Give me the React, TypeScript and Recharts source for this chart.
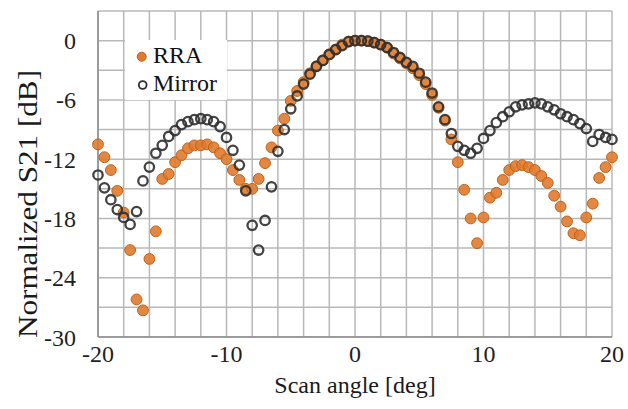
import React from 'react';
import {
  ScatterChart,
  Scatter,
  XAxis,
  YAxis,
  CartesianGrid,
  Legend,
  Label,
} from 'recharts';

// Scan angles [deg], same grid for both measurements
const ANGLES = [
  -20, -19.5, -19, -18.5, -18, -17.5, -17, -16.5, -16, -15.5,
  -15, -14.5, -14, -13.5, -13, -12.5, -12, -11.5, -11, -10.5,
  -10, -9.5, -9, -8.5, -8, -7.5, -7, -6.5, -6, -5.5,
  -5, -4.5, -4, -3.5, -3, -2.5, -2, -1.5, -1, -0.5,
  0, 0.5, 1, 1.5, 2, 2.5, 3, 3.5, 4, 4.5,
  5, 5.5, 6, 6.5, 7, 7.5, 8, 8.5, 9, 9.5,
  10, 10.5, 11, 11.5, 12, 12.5, 13, 13.5, 14, 14.5,
  15, 15.5, 16, 16.5, 17, 17.5, 18, 18.5, 19, 19.5,
  20,
];

// Normalized S21 [dB]
const RRA = [
  -10.5, -11.8, -13.1, -15.2, -17.4, -21.2, -26.2, -27.3, -22.1, -19.3,
  -14.0, -13.5, -12.3, -11.6, -10.9, -10.6, -10.6, -10.5, -10.8, -11.4,
  -12.0, -13.1, -14.1, -15.0, -15.0, -14.0, -12.4, -10.8, -9.1, -7.9,
  -6.1, -5.1, -4.2, -3.3, -2.6, -2.0, -1.4, -0.9, -0.4, -0.1,
  0, 0, -0.05, -0.2, -0.4, -0.7, -1.3, -1.8, -2.3, -2.8,
  -3.5, -4.4, -5.5, -6.8, -8.1, -10.0, -12.3, -15.1, -18.0, -20.5,
  -17.9, -15.9, -15.4, -14.1, -13.1, -12.7, -12.6, -12.8, -13.1, -13.7,
  -14.4, -15.7, -16.8, -18.3, -19.5, -19.7, -17.9, -16.5, -13.9, -12.8,
  -11.8,
];

const MIRROR = [
  -13.6, -14.9, -16.1, -17.1, -17.9, -18.6, -17.3, -14.2, -12.8, -11.4,
  -10.6, -9.7, -9.1, -8.5, -8.2, -8.0, -7.9, -8.0, -8.2, -8.7,
  -9.8, -11.1, -12.6, -15.2, -18.7, -21.2, -18.2, -14.8, -11.2, -9.0,
  -6.9, -5.6, -4.4, -3.4, -2.6, -2.0, -1.4, -0.9, -0.5, -0.1,
  0, 0, -0.05, -0.2, -0.4, -0.7, -1.2, -1.7, -2.2, -2.6,
  -3.3, -4.2, -5.3, -6.7, -8.0, -9.4, -10.7, -11.1, -11.4, -10.9,
  -9.9, -9.1, -8.3, -7.7, -7.2, -6.7, -6.5, -6.4, -6.3, -6.4,
  -6.7, -7.0, -7.4, -7.7, -8.0, -8.4, -8.9, -10.2, -9.5, -9.8,
  -10.0,
];

const X_TICKS = [-20, -18, -16, -14, -12, -10, -8, -6, -4, -2, 0, 2, 4, 6, 8, 10, 12, 14, 16, 18, 20];
const Y_TICKS = [-30, -27, -24, -21, -18, -15, -12, -9, -6, -3, 0, 3];

const FONT = 'Liberation Serif, Times New Roman, serif';
const ORANGE = '#E07B2E';
const ORANGE_EDGE = '#C0611A';
const DARK = '#2f2f2f';
const GRID = '#b8b8b8';
const BORDER = '#8c8c8c';

const rraData = ANGLES.map((angle, i) => ({ angle, value: RRA[i] }));
const mirrorData = ANGLES.map((angle, i) => ({ angle, value: MIRROR[i] }));

const OrangeDot = (props: any) => (
  <circle cx={props.cx} cy={props.cy} r={5.4} fill={ORANGE} fillOpacity={0.9} stroke={ORANGE_EDGE} strokeWidth={1} />
);

const RingDot = (props: any) => (
  <circle cx={props.cx} cy={props.cy} r={4.7} fill="none" stroke={DARK} strokeOpacity={0.9} strokeWidth={2.3} />
);

const textStyle = { fontFamily: FONT };

const ChartLegend = () => (
  <div style={{ background: '#fff', width: 102, height: 60 }}>
    <svg width={102} height={60}>
      <circle cx={16.7} cy={16.7} r={4.5} fill={ORANGE} stroke={ORANGE_EDGE} strokeWidth={1} />
      <text x={28} y={23} style={textStyle} fontSize={24} fill="#111">RRA</text>
      <circle cx={17.7} cy={45} r={3.9} fill="none" stroke={DARK} strokeWidth={1.8} />
      <text x={28} y={51} style={textStyle} fontSize={24} fill="#111">Mirror</text>
    </svg>
  </div>
);

const tickStyle = { fontFamily: FONT, fontSize: 24, fill: '#1f1f1f', style: textStyle };

export default function App() {
  return (
    <div style={{ position: 'absolute', left: 0, top: 0, width: 628, height: 409, background: '#fff', fontFamily: FONT }}>
      <ScatterChart width={628} height={409} margin={{ top: 11, right: 16, left: 0, bottom: 0 }}>
        <CartesianGrid stroke={GRID} strokeWidth={1.5} />
        <XAxis
          type="number"
          dataKey="angle"
          domain={[-20, 20]}
          ticks={X_TICKS}
          interval={0}
          tickFormatter={(v: number) => (v % 10 === 0 ? String(v) : '')}
          height={72}
          tickLine={false}
          tickSize={0}
          tickMargin={8}
          axisLine={{ stroke: BORDER, strokeWidth: 1.5 }}
          tick={tickStyle}
        >
          <Label
            content={(p: any) => {
              const vb = p.viewBox;
              return (
                <text x={vb.x + vb.width / 2} y={393} textAnchor="middle" style={textStyle} fontSize={24} fill="#1a1a1a">
                  Scan angle [deg]
                </text>
              );
            }}
          />
        </XAxis>
        <XAxis
          xAxisId="top"
          orientation="top"
          type="number"
          domain={[-20, 20]}
          height={0}
          tick={false}
          tickLine={false}
          axisLine={{ stroke: BORDER, strokeWidth: 1.5 }}
        />
        <YAxis
          type="number"
          dataKey="value"
          domain={[-30, 3]}
          ticks={Y_TICKS}
          interval={0}
          tickFormatter={(v: number) => (v % 6 === 0 && v <= 0 ? String(v) : '')}
          width={98}
          tickLine={false}
          tickSize={0}
          tickMargin={22}
          axisLine={{ stroke: BORDER, strokeWidth: 1.5 }}
          tick={tickStyle}
        >
          <Label
            content={() => (
              <text
                x={27}
                y={204}
                transform="rotate(-90 27 204)"
                textAnchor="middle"
                dominantBaseline="central"
                style={textStyle}
                fontSize={28}
                textLength={268}
                lengthAdjust="spacingAndGlyphs"
                fill="#1a1a1a"
              >
                Normalized S21 [dB]
              </text>
            )}
          />
        </YAxis>
        <YAxis
          yAxisId="right"
          orientation="right"
          type="number"
          domain={[-30, 3]}
          width={0}
          tick={false}
          tickLine={false}
          axisLine={{ stroke: BORDER, strokeWidth: 1.5 }}
        />
        <Legend
          layout="vertical"
          align="center"
          verticalAlign="middle"
          content={() => <ChartLegend />}
          wrapperStyle={{ left: 125, top: 40, width: 102, height: 60 }}
        />
        <Scatter name="RRA" data={rraData} shape={OrangeDot} isAnimationActive={false} />
        <Scatter name="Mirror" data={mirrorData} shape={RingDot} isAnimationActive={false} />
      </ScatterChart>
    </div>
  );
}
